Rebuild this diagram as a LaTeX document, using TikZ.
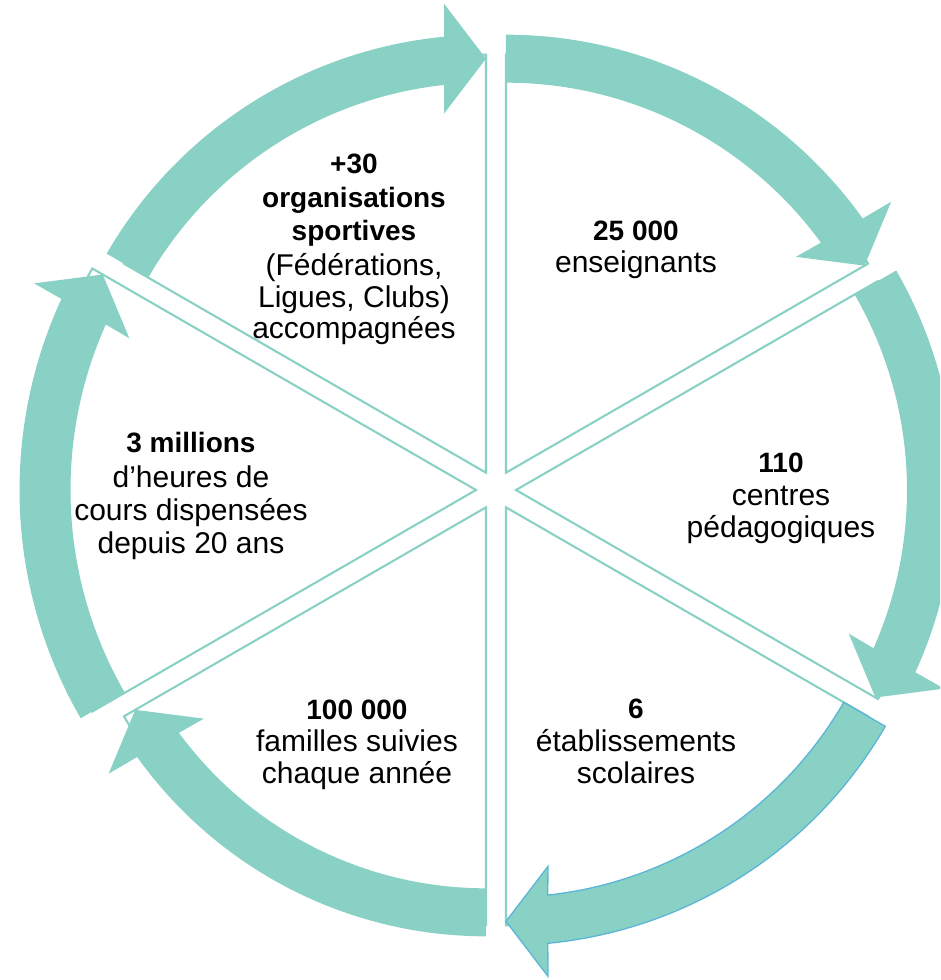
\documentclass[tikz,border=0pt]{standalone}
\usepackage{fontspec}
\setmainfont{Liberation Sans}
\usetikzlibrary{calc}
\definecolor{tealfill}{HTML}{88D1C4}
\definecolor{selblue}{HTML}{5BB5D8}
\newcommand\wedgeseg[4]{% bisector, start, end, radius
  \begin{scope}[shift={(#1:20)}]
    \draw[wedgeline] (0,0) -- (#2:#4) arc[start angle=#2, end angle=#3, radius=#4] -- cycle;
  \end{scope}}
\newcommand\arrowseg[6]{% bisector, start, end, mid radius, half width, extra style
  \begin{scope}[shift={(#1:20)}]
    \pgfmathsetmacro\ri{#4-#5}\pgfmathsetmacro\ro{#4+#5}
    \pgfmathsetmacro\bi{#3+atan(42/\ri)}\pgfmathsetmacro\bo{#3+atan(42/\ro)}
    \pgfmathsetmacro\hi{#4-55}\pgfmathsetmacro\ho{#4+55}
    \path[arrowband,#6] (#2:\ri) arc[start angle=#2, end angle=\bi, radius=\ri]
      -- ($(#3:\hi)+(#3+90:42)$) -- (#3:#4) -- ($(#3:\ho)+(#3+90:42)$)
      -- (\bo:\ro) arc[start angle=\bo, end angle=#2, radius=\ro] -- cycle;
  \end{scope}}
\begin{document}
\begin{tikzpicture}[x=1pt,y=1pt,
  wedgeline/.style={draw=tealfill, line width=2.1pt, line join=miter},
  arrowband/.style={fill=tealfill, draw=none},
  sel/.style={draw=selblue, line width=1.3pt},
  lbl/.style={anchor=base, inner sep=0pt, font=\fontsize{30}{33}\selectfont},
  lblb/.style={anchor=base, inner sep=0pt, font=\fontsize{28}{33}\selectfont\bfseries}]
\useasboundingbox (-496,-490) rectangle (444,490);
\clip (-496,-490) rectangle (444,490);
% wedges
\wedgeseg{120}{150}{90}{418}
\wedgeseg{60}{90}{30}{418}
\wedgeseg{0}{30}{-30}{418}
\wedgeseg{-60}{-30}{-90}{418}
\wedgeseg{-120}{-90}{-150}{418}
\wedgeseg{180}{210}{150}{443}
% arrows
\arrowseg{120}{150}{90}{414}{24}{}
\arrowseg{60}{90}{30}{414}{24}{}
\arrowseg{0}{30}{-30}{415}{24}{}
\arrowseg{-60}{-30}{-90}{414}{24}{sel}
\arrowseg{-120}{-90}{-150}{405}{24}{}
\arrowseg{180}{210}{150}{431}{25.5}{}
% texts
\node[lblb] (t1a) at (-142,316) {+30};
\node[lblb] (t1b) at (-142,282) {organisations};
\node[lblb] (t1c) at (-142,249) {sportives};
\node[lbl] (t1d) at (-142,214) {(Fédérations,};
\node[lbl] (t1e) at (-142,182) {Ligues, Clubs)};
\node[lbl] (t1f) at (-142,151) {accompagnées};
\node[lblb] (t2a) at (140,249) {25 000};
\node[lbl] (t2b) at (140,217) {enseignants};
\node[lblb] (t3a) at (285,17) {110};
\node[lbl] (t3b) at (285,-15) {centres};
\node[lbl] (t3c) at (285,-47) {pédagogiques};
\node[lblb] (t4a) at (140,-228) {6};
\node[lbl] (t4b) at (140,-261) {établissements};
\node[lbl] (t4c) at (140,-293) {scolaires};
\node[lblb] (t5a) at (-139,-229) {100 000};
\node[lbl] (t5b) at (-139,-261) {familles suivies};
\node[lbl] (t5c) at (-139,-293) {chaque année};
\node[lblb] (t6a) at (-305,37) {3 millions};
\node[lbl] (t6b) at (-305,2) {d’heures de};
\node[lbl] (t6c) at (-305,-30) {cours dispensées};
\node[lbl] (t6d) at (-305,-63) {depuis 20 ans};
\end{tikzpicture}
\end{document}
